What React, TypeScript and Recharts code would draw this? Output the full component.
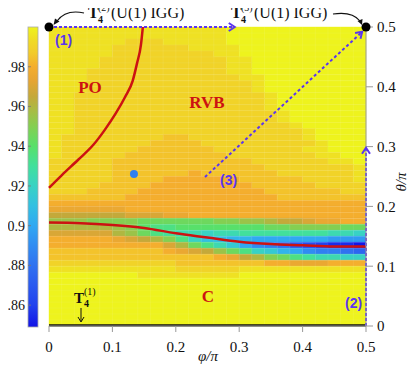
import React from 'react';
import { ComposedChart, XAxis, YAxis, Line, Scatter, ReferenceArea, ReferenceLine } from 'recharts';

const PHI_TICKS = [0, 0.1, 0.2, 0.3, 0.4, 0.5];
const THETA_TICKS = [0, 0.1, 0.2, 0.3, 0.4, 0.5];
const CBAR_TICKS = [0.86, 0.88, 0.9, 0.92, 0.94, 0.96, 0.98];
const CBAR_MIN = 0.849;
const CBAR_MAX = 1.0;

// heat map grid: 25 columns of phi (0.02 wide), 50 rows of theta (0.01 tall)
// rows listed from the top (theta 0.49-0.5) down to theta 0-0.01
// each char is a level k, value = 1 - 0.005 * k
const PHI_STEP = 0.02;
const THETA_STEP = 0.01;
const LEVELS = '0123456789abcdefghijklmnopqrstu';
const LEVEL_STEP = 0.005;

const heatRows = [
  '1111111111111100000000000',
  '1111111111111100000000000',
  '1111112221111100000000000',
  '1111122222211110000000000',
  '1111122222222110000000000',
  '1111222222222211000000000',
  '1111222222222211000000000',
  '1112222222222211000000000',
  '1112222222222221100000000',
  '1112222222222222100000000',
  '1112222222222222100000000',
  '1122222222222222210000000',
  '1122222222222222210000000',
  '1122222222222222210000000',
  '1122222222222222221000000',
  '1122222222222222221000000',
  '1122222222222222222100000',
  '1122222222222222222210000',
  '1222222223322222222210000',
  '1222222233332222222221000',
  '1222222333333222222211000',
  '1222223333333322222221100',
  '2222233333333333222222110',
  '2222233333333333322222221',
  '2222233333343333332222221',
  '2222233334444443333322221',
  '2222333344444444333332222',
  '2223333444444444433333322',
  '3333334444444444443333333',
  '4444444444444444444444444',
  '5555554444444444444444444',
  '7777776665544444444444444',
  '999aaaabbbbbbaa9987765544',
  '888889acddcccccccbbaaaabb',
  '6666689bdeffgffeeeeeeeffg',
  '444445678adgiijjkkkkkklll',
  '44444444468bdfhkmnoqrsttu',
  '33333333345679bdghjkmnnop',
  '33333333333334578abdeffgg',
  '2222222222333333344555444',
  '1111111111222221111111111',
  '0000000111111110000000000',
  '0000000000000000000000000',
  '0000000000000000000000000',
  '0000000000000000000000000',
  '0000000000000000000000000',
  '0000000000000000000000000',
  '0000000000000000000000000',
  '0000000000000000000000000',
  '0000000000000000000000000',
];

// phase boundaries (red lines)
const poBoundary = [
  { phi: 0, theta: 0.231 },
  { phi: 0.02, theta: 0.252 },
  { phi: 0.046, theta: 0.278 },
  { phi: 0.07, theta: 0.303 },
  { phi: 0.088, theta: 0.328 },
  { phi: 0.105, theta: 0.355 },
  { phi: 0.12, theta: 0.383 },
  { phi: 0.132, theta: 0.41 },
  { phi: 0.139, theta: 0.44 },
  { phi: 0.145, theta: 0.47 },
  { phi: 0.148, theta: 0.5 },
];
const chiralBoundary = [
  { phi: 0, theta: 0.173 },
  { phi: 0.05, theta: 0.172 },
  { phi: 0.1, theta: 0.169 },
  { phi: 0.15, theta: 0.164 },
  { phi: 0.2, theta: 0.155 },
  { phi: 0.25, theta: 0.148 },
  { phi: 0.3, theta: 0.141 },
  { phi: 0.35, theta: 0.137 },
  { phi: 0.4, theta: 0.135 },
  { phi: 0.45, theta: 0.133 },
  { phi: 0.5, theta: 0.133 },
];
const t4Line = [
  { phi: 0, theta: 0.001 },
  { phi: 0.5, theta: 0.001 },
];

// dotted paths (1), (2), (3)
const pathOne = [
  { phi: 0, theta: 0.5 },
  { phi: 0.293, theta: 0.5 },
];
const pathTwo = [
  { phi: 0.5, theta: 0.0 },
  { phi: 0.5, theta: 0.298 },
];
const pathThree = [
  { phi: 0.246, theta: 0.249 },
  { phi: 0.494, theta: 0.492 },
];

const iggPoints = [
  { phi: 0, theta: 0.5 },
  { phi: 0.5, theta: 0.5 },
];
const markedPoint = [{ phi: 0.134, theta: 0.254 }];

const CMAP: [number, string][] = [
  [1.0, '#eef31d'],
  [0.993, '#f0da25'],
  [0.987, '#f2cb2a'],
  [0.98, '#f4ae2e'],
  [0.973, '#e6a533'],
  [0.965, '#c4a93a'],
  [0.958, '#a8bc44'],
  [0.95, '#84cf52'],
  [0.94, '#58e06a'],
  [0.93, '#42e09c'],
  [0.92, '#38d2c4'],
  [0.91, '#32c0e2'],
  [0.9, '#30a8f2'],
  [0.89, '#308cf2'],
  [0.88, '#3072f0'],
  [0.87, '#2a5af0'],
  [0.86, '#2242ee'],
  [0.849, '#1212e6'],
];

const SERIF = "'Liberation Serif', 'DejaVu Serif', serif";
const SANS = "'Liberation Sans', Arial, sans-serif";
const VIOLET = '#5b35f0';
const RED = '#cc1212';

function hexToRgb(h: string) {
  return [1, 3, 5].map((i) => parseInt(h.slice(i, i + 2), 16));
}

function colorFor(v: number) {
  if (v >= CMAP[0][0]) return CMAP[0][1];
  for (let k = 0; k < CMAP.length - 1; k++) {
    const [v0, c0] = CMAP[k];
    const [v1, c1] = CMAP[k + 1];
    if (v <= v0 && v >= v1) {
      const t = (v0 - v) / (v0 - v1);
      const a = hexToRgb(c0);
      const b = hexToRgb(c1);
      const m = a.map((x, i) => Math.round(x + (b[i] - x) * t));
      return `rgb(${m[0]},${m[1]},${m[2]})`;
    }
  }
  return CMAP[CMAP.length - 1][1];
}

// merge runs of equal cells in a row into one area
type HeatCell = { x1: number; x2: number; y1: number; y2: number; value: number };
const heatCells: HeatCell[] = [];
heatRows.forEach((row, r) => {
  const i = heatRows.length - 1 - r;
  let start = 0;
  for (let j = 1; j <= row.length; j++) {
    if (j === row.length || row[j] !== row[start]) {
      heatCells.push({
        x1: start * PHI_STEP,
        x2: j * PHI_STEP,
        y1: i * THETA_STEP,
        y2: (i + 1) * THETA_STEP,
        value: 1 - LEVEL_STEP * LEVELS.indexOf(row[start]),
      });
      start = j;
    }
  }
});

const gridPhi = Array.from({ length: 24 }, (_, j) => (j + 1) * PHI_STEP);
const gridTheta = Array.from({ length: 49 }, (_, i) => (i + 1) * THETA_STEP);

const arrowDot = (angle: number, last: number) => (p: any) => {
  if (p.index !== last) return <g key={`d${p.index}`} />;
  return (
    <path
      key={`d${p.index}`}
      d="M-6,-4 L0,0 L-6,4"
      fill="none"
      stroke={VIOLET}
      strokeWidth={2}
      transform={`translate(${p.cx},${p.cy}) rotate(${angle})`}
    />
  );
};

// colorbar geometry (overlay)
const CB_X = 28;
const CB_W = 10;
const CB_TOP = 27;
const CB_H = 300;
const cbY = (v: number) => CB_TOP + ((CBAR_MAX - v) / (CBAR_MAX - CBAR_MIN)) * CB_H;

export default function App() {
  return (
    <div style={{ position: 'relative', width: 415, height: 366, margin: '-8px 0 0 -8px', background: '#fff' }}>
      <ComposedChart width={415} height={366} margin={{ top: 27, right: 0, bottom: 0, left: 49 }}>
        <XAxis
          xAxisId="num"
          dataKey="phi"
          type="number"
          domain={[0, 0.5]}
          ticks={PHI_TICKS}
          height={40}
          tickSize={6}
          tickMargin={9}
          stroke="#999"
          tick={{ fill: '#111', fontSize: 15, fontFamily: SERIF }}
        />
        <YAxis
          yAxisId="th"
          dataKey="theta"
          type="number"
          orientation="right"
          domain={[0, 0.5]}
          ticks={THETA_TICKS}
          width={49}
          tickSize={7}
          tickMargin={4}
          stroke="#999"
          tick={{ fill: '#111', fontSize: 15, fontFamily: SERIF }}
        />

        {heatCells.map((c, k) => (
          <ReferenceArea
            key={`h${k}`}
            xAxisId="num"
            yAxisId="th"
            x1={c.x1}
            x2={c.x2}
            y1={c.y1}
            y2={c.y2}
            fill={colorFor(c.value)}
            fillOpacity={1}
            stroke={colorFor(c.value)}
            strokeWidth={0.4}
            ifOverflow="visible"
          />
        ))}
        {gridPhi.map((x) => (
          <ReferenceLine key={`gx${x}`} xAxisId="num" yAxisId="th" x={x} stroke="#fff" strokeOpacity={0.14} strokeWidth={0.6} />
        ))}
        {gridTheta.map((y) => (
          <ReferenceLine key={`gy${y}`} xAxisId="num" yAxisId="th" y={y} stroke="#fff" strokeOpacity={0.14} strokeWidth={0.6} />
        ))}

        <Line data={t4Line} xAxisId="num" yAxisId="th" dataKey="theta" stroke="#111" strokeWidth={2.2} dot={false} isAnimationActive={false} />
        <Line data={poBoundary} xAxisId="num" yAxisId="th" dataKey="theta" type="monotone" stroke={RED} strokeWidth={2.5} dot={false} isAnimationActive={false} />
        <Line data={chiralBoundary} xAxisId="num" yAxisId="th" dataKey="theta" type="monotone" stroke={RED} strokeWidth={2.5} dot={false} isAnimationActive={false} />

        <Line data={pathOne} xAxisId="num" yAxisId="th" dataKey="theta" stroke={VIOLET} strokeWidth={2} strokeDasharray="3 2" dot={arrowDot(0, 1)} isAnimationActive={false} />
        <Line data={pathTwo} xAxisId="num" yAxisId="th" dataKey="theta" stroke={VIOLET} strokeWidth={2} strokeDasharray="3 2" dot={arrowDot(-90, 1)} isAnimationActive={false} />
        <Line data={pathThree} xAxisId="num" yAxisId="th" dataKey="theta" stroke={VIOLET} strokeWidth={2} strokeDasharray="3 2.5" dot={arrowDot(-42.7, 1)} isAnimationActive={false} />

        <Scatter
          data={iggPoints}
          xAxisId="num"
          yAxisId="th"
          dataKey="theta"
          isAnimationActive={false}
          shape={(p: any) => <circle cx={p.cx} cy={p.cy} r={4.5} fill="#000" />}
        />
        <Scatter
          data={markedPoint}
          xAxisId="num"
          yAxisId="th"
          dataKey="theta"
          isAnimationActive={false}
          shape={(p: any) => <circle cx={p.cx} cy={p.cy} r={4} fill="#2f7ff0" />}
        />
      </ComposedChart>

      <svg width={415} height={366} style={{ position: 'absolute', left: 0, top: 0, pointerEvents: 'none' }}>
        <defs>
          <linearGradient id="cbar" x1="0" y1="0" x2="0" y2="1">
            {CMAP.map(([v, c]) => (
              <stop key={v} offset={(CBAR_MAX - v) / (CBAR_MAX - CBAR_MIN)} stopColor={c} />
            ))}
          </linearGradient>
        </defs>

        {/* colorbar */}
        <rect x={CB_X} y={CB_TOP} width={CB_W} height={CB_H} fill="url(#cbar)" stroke="#aaa" strokeWidth={0.8} />
        {CBAR_TICKS.map((v) => (
          <g key={v}>
            <line x1={CB_X} x2={CB_X + 3} y1={cbY(v)} y2={cbY(v)} stroke="#777" strokeWidth={0.8} />
            <text x={25} y={cbY(v) + 5} textAnchor="end" fontFamily={SERIF} fontSize={14} fill="#111">
              {v.toFixed(2).replace(/0$/, '')}
            </text>
          </g>
        ))}

        {/* axis titles */}
        <text x={208} y={361} textAnchor="middle" fontFamily={SERIF} fontStyle="italic" fontSize={15} fill="#111">
          φ/π
        </text>
        <text x={406} y={182} textAnchor="middle" fontFamily={SERIF} fontStyle="italic" fontSize={15} fill="#111" transform="rotate(-90 406 182)">
          θ/π
        </text>

        {/* phase names */}
        <text x={90} y={93} textAnchor="middle" fontFamily={SERIF} fontWeight="bold" fontSize={17} fill={RED}>PO</text>
        <text x={207} y={108} textAnchor="middle" fontFamily={SERIF} fontWeight="bold" fontSize={17} fill={RED}>RVB</text>
        <text x={208} y={302} textAnchor="middle" fontFamily={SERIF} fontWeight="bold" fontSize={17} fill={RED}>C</text>

        {/* path labels */}
        <text x={55} y={45} fontFamily={SANS} fontWeight="bold" fontSize={14} fill={VIOLET}>(1)</text>
        <text x={345} y={308} fontFamily={SANS} fontWeight="bold" fontSize={14} fill={VIOLET}>(2)</text>
        <text x={220} y={185} fontFamily={SANS} fontWeight="bold" fontSize={14} fill={VIOLET}>(3)</text>

        {/* T4(2) label */}
        <text x={88} y={18} fontFamily={SERIF} fontWeight="bold" fontSize={16} fill="#111">T</text>
        <text x={98} y={11} fontFamily={SERIF} fontSize={10} fill="#111">(2)</text>
        <text x={98} y={23} fontFamily={SERIF} fontWeight="bold" fontSize={10} fill="#111">4</text>
        <text x={111} y={18} fontFamily={SERIF} fontSize={16} fill="#111">(U(1) IGG)</text>
        <path d="M84 13 Q 66 9 57 21" fill="none" stroke="#111" strokeWidth={1.2} />
        <path d="M53.5 25 L55 18.5 L59.5 21.5 Z" fill="#111" />

        {/* T4(3) label */}
        <text x={231} y={18} fontFamily={SERIF} fontWeight="bold" fontSize={16} fill="#111">T</text>
        <text x={241} y={11} fontFamily={SERIF} fontSize={10} fill="#111">(3)</text>
        <text x={241} y={23} fontFamily={SERIF} fontWeight="bold" fontSize={10} fill="#111">4</text>
        <text x={254} y={18} fontFamily={SERIF} fontSize={16} fill="#111">(U(1) IGG)</text>
        <path d="M333 14 Q 352 11 360 21" fill="none" stroke="#111" strokeWidth={1.2} />
        <path d="M362 25 L357.5 21 L362.5 19 Z" fill="#111" />

        {/* T4(1) label */}
        <text x={74} y={303} fontFamily={SERIF} fontWeight="bold" fontSize={15} fill="#111">T</text>
        <text x={84} y={295} fontFamily={SERIF} fontSize={10} fill="#111">(1)</text>
        <text x={84} y={307} fontFamily={SERIF} fontWeight="bold" fontSize={10} fill="#111">4</text>
        <line x1={81} x2={81} y1={308} y2={321} stroke="#111" strokeWidth={1} />
        <path d="M78 317 L81 322 L84 317" fill="none" stroke="#111" strokeWidth={1} />
      </svg>
    </div>
  );
}
